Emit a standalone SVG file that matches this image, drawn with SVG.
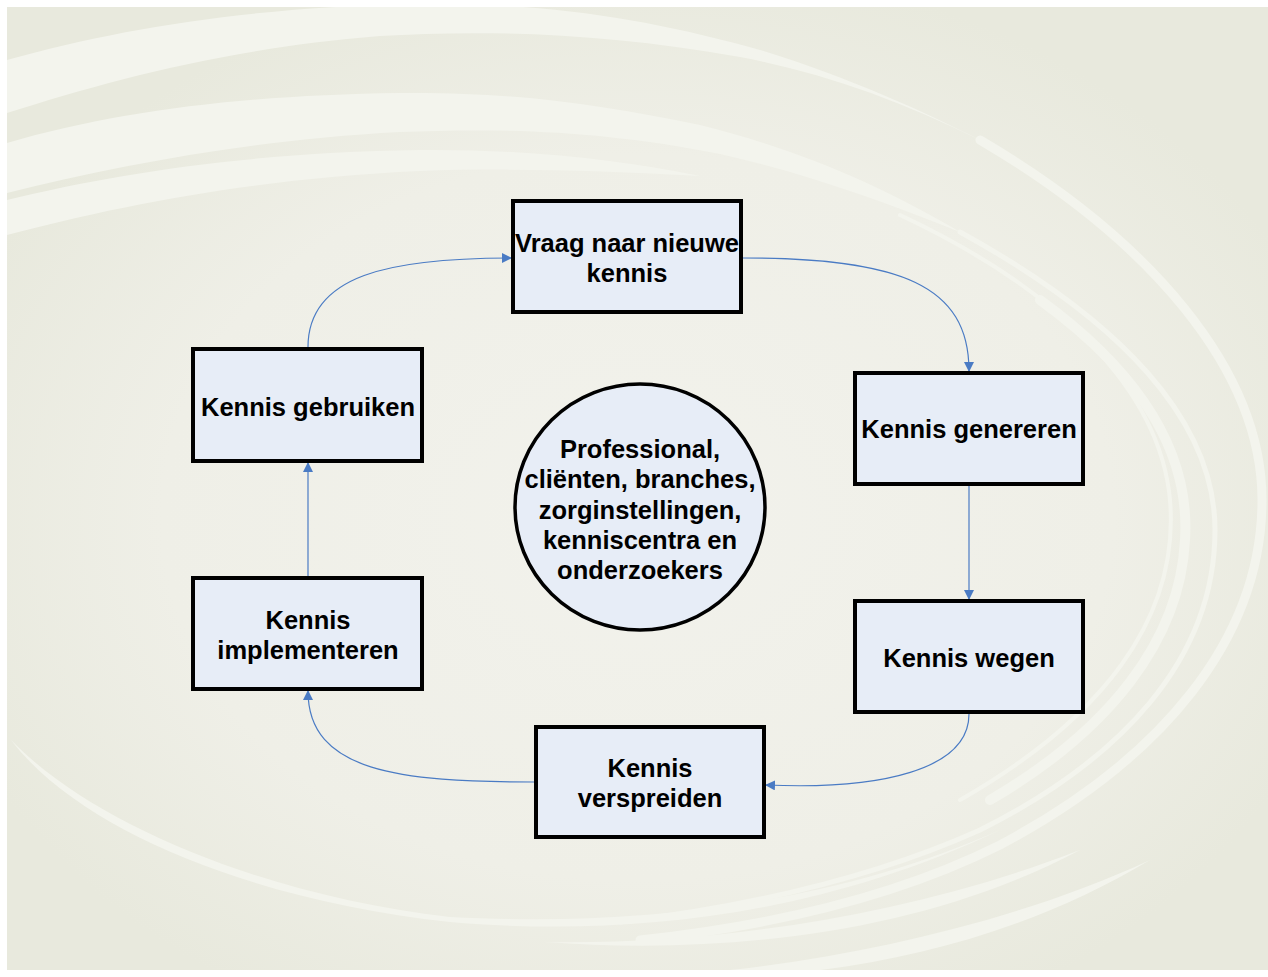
<svg xmlns="http://www.w3.org/2000/svg" width="1268" height="977" viewBox="0 0 1268 977">
<defs>
<radialGradient id="bg" cx="0.5" cy="0.53" r="0.58">
<stop offset="0" stop-color="#f2f2ec"/>
<stop offset="0.65" stop-color="#efefe7"/>
<stop offset="1" stop-color="#e8e9dd"/>
</radialGradient>
<clipPath id="pg"><rect x="7" y="7" width="1261" height="963"/></clipPath>
<marker id="arr" viewBox="0 0 10 10" refX="9" refY="5" markerWidth="10" markerHeight="10" markerUnits="userSpaceOnUse" orient="auto">
<path d="M0,0 L10,5 L0,10 z" fill="#4a7bc4"/>
</marker>
<style>
.box{fill:#e7edf7;stroke:#000;stroke-width:4}
.t{font-family:"Liberation Sans",Arial,sans-serif;font-weight:bold;font-size:25.5px;fill:#000;text-anchor:middle}
.c{fill:none;stroke:#4a7bc4;stroke-width:1.2}
.band{fill:#f3f4ed}
.sw{fill:none;stroke:#f3f4ed;stroke-linecap:round}
</style>
</defs>
<rect width="1268" height="977" fill="#ffffff"/>
<rect x="7" y="7" width="1261" height="963" fill="url(#bg)"/>
<g id="swirls" clip-path="url(#pg)">
<path class="band" d="M7,60 C130,25 280,4 440,4 C560,4 660,22 760,50 C850,78 920,110 980,140 C900,100 820,72 740,57 C600,32 480,30 380,36 C230,48 110,80 7,113 Z"/>
<path class="band" d="M7,143 C120,110 250,95 400,93 C520,92 600,105 700,125 C800,150 880,185 960,232 C880,200 800,172 720,154 C600,130 500,128 400,132 C250,140 120,165 7,193 Z"/>
<path class="band" d="M7,200 C120,172 260,152 420,150 C530,149 620,160 700,176 C600,170 500,168 420,171 C260,178 120,205 7,235 Z"/>
<path class="sw" stroke-width="9" d="M980,140 C1150,240 1262,370 1262,500 C1262,640 1160,760 1000,845 C900,895 780,925 640,940"/>
<path class="sw" stroke-width="5" d="M960,232 C1120,320 1215,420 1215,530 C1215,660 1120,760 980,830 C880,875 760,905 620,922"/>
<path class="sw" stroke-width="10" d="M1040,300 C1150,380 1190,460 1185,540 C1180,640 1110,730 990,800"/>
<path class="sw" stroke-width="4" d="M900,215 C1060,290 1160,390 1170,500 C1180,620 1100,720 960,800"/>
<path class="band" d="M11,740 C80,830 250,900 450,922 C600,935 800,925 1000,830 C820,910 620,926 450,917 C260,895 90,822 11,740 Z"/>
<path class="band" d="M545,942 C700,945 900,920 1080,850 C920,935 720,955 545,942 Z"/>
<path class="band" d="M640,977 C800,970 1000,930 1150,860 C1000,950 820,985 640,977 Z"/>
</g>
<g id="connectors">
<path class="c" marker-end="url(#arr)" d="M743,258 C900,258 969,285 969,371"/>
<path class="c" marker-end="url(#arr)" d="M969,486 L969,599"/>
<path class="c" marker-end="url(#arr)" d="M969,714 C969,770 880,790 766,785"/>
<path class="c" marker-end="url(#arr)" d="M534,782 C400,782 308,772 308,691"/>
<path class="c" marker-end="url(#arr)" d="M308,576 L308,463"/>
<path class="c" marker-end="url(#arr)" d="M308,347 C308,275 390,258 511,258"/>
</g>
<g id="n-vraag">
<rect class="box" x="513" y="201" width="228" height="111"/>
<text class="t" x="627" y="252">Vraag naar nieuwe</text>
<text class="t" x="627" y="282">kennis</text>
</g>
<g id="n-genereren">
<rect class="box" x="855" y="373" width="228" height="111"/>
<text class="t" x="969" y="438">Kennis genereren</text>
</g>
<g id="n-wegen">
<rect class="box" x="855" y="601" width="228" height="111"/>
<text class="t" x="969" y="667">Kennis wegen</text>
</g>
<g id="n-verspreiden">
<rect class="box" x="536" y="727" width="228" height="110"/>
<text class="t" x="650" y="777">Kennis</text>
<text class="t" x="650" y="807">verspreiden</text>
</g>
<g id="n-implementeren">
<rect class="box" x="193" y="578" width="229" height="111"/>
<text class="t" x="308" y="629">Kennis</text>
<text class="t" x="308" y="659">implementeren</text>
</g>
<g id="n-gebruiken">
<rect class="box" x="193" y="349" width="229" height="112"/>
<text class="t" x="308" y="416">Kennis gebruiken</text>
</g>
<g id="n-center">
<ellipse cx="640" cy="507" rx="125" ry="123" fill="#e7edf7" stroke="#000" stroke-width="3.5"/>
<text class="t" x="640" y="458">Professional,</text>
<text class="t" x="640" y="488">cliënten, branches,</text>
<text class="t" x="640" y="519">zorginstellingen,</text>
<text class="t" x="640" y="549">kenniscentra en</text>
<text class="t" x="640" y="579">onderzoekers</text>
</g>
</svg>
